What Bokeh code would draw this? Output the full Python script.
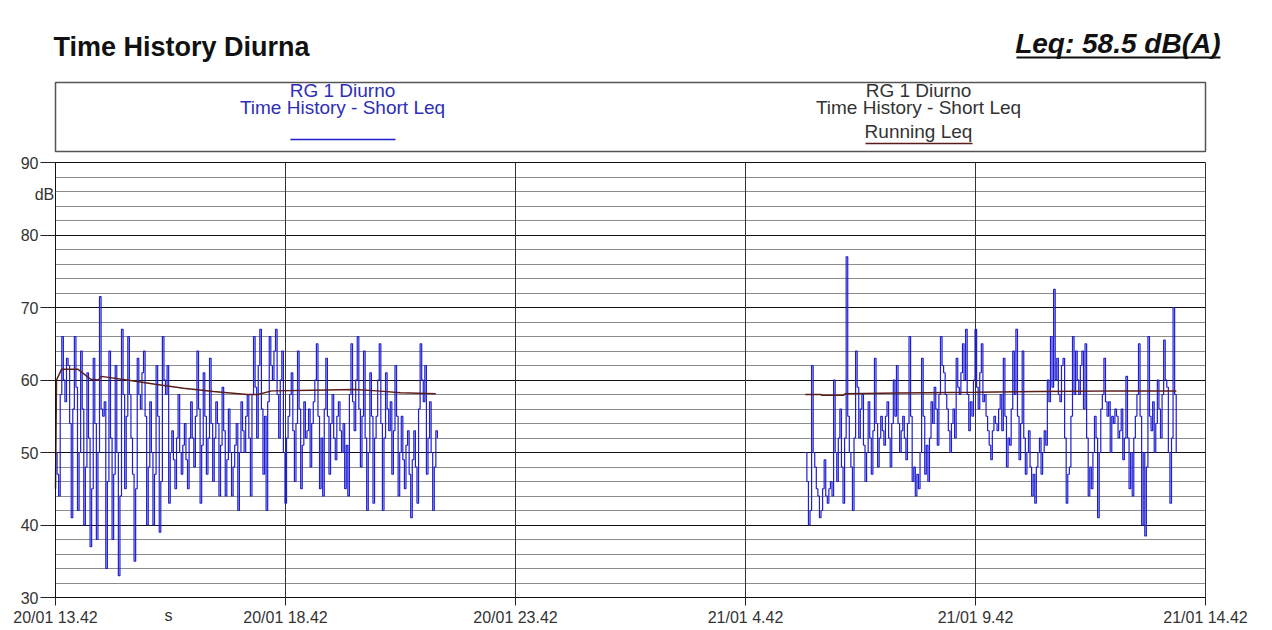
from bokeh.plotting import figure
from bokeh.models import Range1d, FixedTicker, Label, LinearAxis, Grid
from bokeh.embed import file_html
from bokeh.resources import INLINE

# ---------------- data ----------------
TITLE = "Time History Diurna"
LEQ_TEXT = "Leq: 58.5 dB(A)"
SERIES_NAME = "RG 1 Diurno"
SHORT_LEQ = "Time History - Short Leq"
RUNNING_LEQ = "Running Leq"
Y_UNIT = "dB"
X_UNIT = "s"

tick_hours = [0, 5, 10, 15, 20, 25]
tick_labels = ["20/01 13.42", "20/01 18.42", "20/01 23.42",
               "21/01 4.42", "21/01 9.42", "21/01 14.42"]
y_major = [30, 40, 50, 60, 70, 80, 90]
y_minor = list(range(30, 91, 2))

step_min = 2.05         # minutes between short-Leq samples
seg1_start_min = 0      # 20/01 13.42
seg2_start_min = 978    # 21/01 06.00

seg1_leq = [50, 47, 44, 58, 66, 60, 57, 63, 62, 54, 41, 56, 66, 59, 42, 50, 64, 56, 40, 48,
            61, 52, 37, 45, 63, 54, 38, 50, 71.5, 56, 55, 57, 34, 46, 64, 52, 38, 47, 62, 50,
            33, 44, 67, 58, 45, 55, 66, 58, 52, 47, 35, 45, 63, 58, 56, 61, 64, 55, 40, 48,
            57, 50, 40, 47, 62, 55, 39, 46, 66, 60, 58, 62, 43, 50, 53, 49, 45, 52, 58, 50,
            47, 51, 54, 49, 45, 52, 57, 52, 48, 55, 64, 56, 43, 51, 61, 55, 47, 52, 63, 54,
            46, 52, 57, 54, 44, 51, 59, 53, 44, 49, 56, 50, 44, 48, 51, 54, 42, 50, 57, 53,
            50, 55, 58, 52, 44, 58, 66, 59, 52, 62, 67, 56, 47, 55, 42, 57, 66, 62, 60, 64,
            67, 58, 52, 60, 64, 50, 43, 52, 55, 58, 61, 53, 46, 54, 64, 56, 45, 51, 57, 52,
            53, 56, 48, 54, 57, 60, 65, 55, 45, 52, 44, 56, 63, 55, 47, 54, 58, 52, 49, 55,
            57, 53, 50, 54, 45, 51, 44, 58, 65, 57, 53, 60, 66, 56, 48, 55, 64, 52, 42, 50,
            61, 55, 43, 52, 55, 60, 65, 54, 42, 52, 61, 56, 53, 57, 47, 53, 62, 55, 44, 50,
            55, 49, 45, 51, 53, 47, 41, 49, 53, 48, 43, 56, 65, 60, 57, 62, 47, 52, 57, 50,
            42, 48, 53, 52]

seg2_leq = [50, 46, 40, 42, 62, 50, 48, 45, 44, 41, 42, 45, 49, 44, 43, 45, 46, 44, 60, 50,
            46, 52, 56, 48, 43, 52, 77, 55, 50, 48, 42, 52, 64, 59, 52, 56, 58, 51, 46, 50,
            57, 52, 47, 53, 63, 54, 48, 52, 55, 53, 51, 55, 57, 52, 48, 54, 60, 55, 62, 54,
            50, 53, 55, 52, 49, 54, 66, 55, 46, 48, 44, 47, 45, 50, 63, 55, 47, 51, 46, 52,
            57, 54, 59, 56, 51, 58, 66, 62, 61, 58, 56, 53, 50, 54, 56, 52, 63, 59, 58, 61,
            65, 60, 67, 58, 53, 57, 55, 60, 67, 59, 56, 61, 65, 57, 58, 55, 53, 51, 49, 53,
            55, 54, 53, 56, 58, 53, 63, 55, 48, 52, 51, 56, 64, 58, 67, 55, 49, 54, 64, 52,
            47, 50, 53, 48, 44, 47, 43, 48, 50, 52, 47, 50, 53, 51, 60, 57, 66, 59, 72.5, 60,
            63, 58, 57, 62, 63, 52, 43, 47, 48, 55, 66, 58, 64, 60, 58, 62, 64, 56, 65, 52,
            44, 48, 45, 50, 55, 52, 41, 50, 56, 58, 63, 57, 55, 57, 50, 55, 54, 56, 55, 52,
            53, 56, 49, 52, 60.5, 52, 45, 50, 44, 52, 55, 58, 65, 55, 40, 50, 38.5, 48, 66, 55,
            53, 57, 50, 54, 60, 56, 52, 58, 65.5, 60, 59, 50, 43, 52, 70, 58, 50]

run1_min = [0, 1.3, 8, 29, 46, 56, 60, 100, 130, 167, 206, 250, 264, 282, 336, 390, 420, 450, 496]
run1_leq = [45, 60, 61.5, 61.5, 60.1, 60.0, 60.5, 59.9, 59.4, 58.85, 58.4, 58.0, 58.0, 58.5, 58.6, 58.7, 58.5, 58.25, 58.1]
run2_min = [978, 998, 1000, 1028, 1030, 1100, 1200, 1280, 1330, 1390, 1462]
run2_leq = [58.0, 58.0, 57.9, 57.9, 58.1, 58.2, 58.3, 58.4, 58.45, 58.5, 58.5]

# derived x values (hours from 20/01 13.42)
seg1_h = [(seg1_start_min + i * step_min) / 60 for i in range(len(seg1_leq))]
seg2_h = [(seg2_start_min + i * step_min) / 60 for i in range(len(seg2_leq))]
run1_h = [m / 60 for m in run1_min]
run2_h = [m / 60 for m in run2_min]

FONT = "Liberation Sans"
BLUE = "#1E1ED2"
BLUE_TXT = "#2E2EB8"
BROWN = "#5A1E1A"
GREY_TXT = "#333333"

# ---------------- page geometry (page px -> data) ----------------
W, H = 1260, 628
X0_PX, PX_PER_H = 55.0, 46.0      # x = 0 h at page x 55, 46 px per hour
Y90_PX, PX_PER_DB = 162.0, 7.25   # 90 dB at page y 162, 7.25 px per dB
X_LO, X_HI = tick_hours[0], tick_hours[-1]
Y_LO, Y_HI = y_major[0], y_major[-1]


def hx(px):
    return (px - X0_PX) / PX_PER_H


def dy(py):
    return Y_HI - (py - Y90_PX) / PX_PER_DB


p = figure(width=W, height=H, x_range=Range1d(hx(0), hx(W)), y_range=Range1d(dy(H), dy(0)),
           toolbar_location=None, output_backend="svg",
           x_axis_type=None, y_axis_type=None, outline_line_color=None,
           min_border=0, min_border_left=0, min_border_right=0,
           min_border_top=0, min_border_bottom=0)
p.title.visible = False

# ---- grids ----
has_cross = "cross_bounds" in Grid.properties()
if has_cross:
    xg = Grid(dimension=0, ticker=FixedTicker(ticks=tick_hours), grid_line_color="#333333",
              cross_bounds=(Y_LO, Y_HI))
    yg = Grid(dimension=1, ticker=FixedTicker(ticks=y_major, minor_ticks=y_minor),
              grid_line_color="#111111", minor_grid_line_color="#8C8C8C",
              cross_bounds=(X_LO, X_HI))
    p.add_layout(yg)
    p.add_layout(xg)
else:
    minor_only = [v for v in y_minor if v not in y_major]
    p.segment(x0=[X_LO] * len(minor_only), y0=minor_only, x1=[X_HI] * len(minor_only),
              y1=minor_only, line_color="#8C8C8C", line_width=1)
    p.segment(x0=[X_LO] * len(y_major), y0=y_major, x1=[X_HI] * len(y_major),
              y1=y_major, line_color="#111111", line_width=1)
    p.segment(x0=tick_hours, y0=[Y_LO] * len(tick_hours), x1=tick_hours,
              y1=[Y_HI] * len(tick_hours), line_color="#333333", line_width=1)

# ---- axes ----
xax = LinearAxis(ticker=FixedTicker(ticks=tick_hours), fixed_location=Y_LO, bounds=(X_LO, X_HI))
xax.major_label_overrides = {h: l for h, l in zip(tick_hours, tick_labels)}
yax = LinearAxis(ticker=FixedTicker(ticks=y_major, minor_ticks=y_minor), fixed_location=X_LO,
                 bounds=(Y_LO, Y_HI))
for ax in (xax, yax):
    ax.axis_line_color = "#111111"
    ax.major_tick_line_color = "#222222"
    ax.major_tick_in = 0
    ax.minor_tick_in = 0
    ax.minor_tick_out = 0
    ax.major_label_text_font = FONT
    ax.major_label_text_font_size = "16px"
    ax.major_label_text_color = GREY_TXT
yax.major_tick_out = 15
yax.major_label_standoff = 2
xax.major_tick_out = 8
xax.major_label_standoff = 3
p.add_layout(xax, "below")
p.add_layout(yax, "left")

# ---- data ----
p.step(seg1_h, seg1_leq, mode="after", line_color=BLUE, line_width=1.2)
p.step(seg2_h, seg2_leq, mode="after", line_color=BLUE, line_width=1.2)
p.line(run1_h, run1_leq, line_color=BROWN, line_width=1.5)
p.line(run2_h, run2_leq, line_color=BROWN, line_width=1.5)

# ---- header: title, Leq, legend box ----
p.add_layout(Label(x=hx(53), y=dy(46.5), text=TITLE, text_font=FONT, text_font_size="27px",
                   text_font_style="bold", text_color="#111111", text_baseline="alphabetic"))
p.add_layout(Label(x=hx(1220), y=dy(43), text=LEQ_TEXT, text_font=FONT, text_font_size="28px",
                   text_font_style="bold italic", text_color="#111111",
                   text_align="right", text_baseline="alphabetic"))
p.segment(x0=[hx(1016)], y0=[dy(57)], x1=[hx(1220)], y1=[dy(57)], line_color="#111111", line_width=2)

p.quad(left=[hx(55)], right=[hx(1205)], top=[dy(82)], bottom=[dy(151)], fill_color=None,
       line_color="#555555", line_width=1.5)

lx, rx = hx(342), hx(918)
for txt, yy in [(SERIES_NAME, 89.5), (SHORT_LEQ, 106.5)]:
    p.add_layout(Label(x=lx, y=dy(yy), text=txt, text_font=FONT, text_font_size="19px",
                       text_color=BLUE_TXT, text_align="center", text_baseline="alphabetic"))
    p.add_layout(Label(x=rx, y=dy(yy), text=txt, text_font=FONT, text_font_size="19px",
                       text_color=GREY_TXT, text_align="center", text_baseline="alphabetic"))
p.add_layout(Label(x=rx, y=dy(130.5), text=RUNNING_LEQ, text_font=FONT, text_font_size="19px",
                   text_color=GREY_TXT, text_align="center", text_baseline="alphabetic"))
p.segment(x0=[hx(290)], y0=[dy(139)], x1=[hx(395)], y1=[dy(139)], line_color=BLUE, line_width=1.3)
p.segment(x0=[hx(865)], y0=[dy(143)], x1=[hx(972)], y1=[dy(143)], line_color=BROWN, line_width=1.3)

# ---- unit labels ----
p.add_layout(Label(x=hx(44), y=dy(193.5), text=Y_UNIT, text_font=FONT, text_font_size="16px",
                   text_color=GREY_TXT, text_align="center", text_baseline="alphabetic"))
p.add_layout(Label(x=hx(168), y=dy(614.5), text=X_UNIT, text_font=FONT, text_font_size="16px",
                   text_color=GREY_TXT, text_align="center", text_baseline="alphabetic"))

open("out.html", "w").write(file_html(p, INLINE))
